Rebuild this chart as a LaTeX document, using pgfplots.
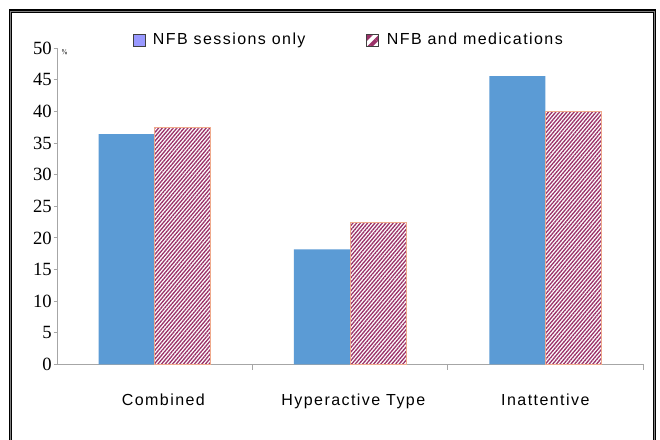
\documentclass[border=0pt]{standalone}
\usepackage{pgfplots}
\pgfplotsset{compat=1.18}
\usetikzlibrary{patterns.meta}
\usepackage{fontspec}
\setmainfont{Liberation Serif}
\newfontfamily\arialf[LetterSpace=9]{Liberation Sans}
\definecolor{barblue}{RGB}{91,155,213}
\definecolor{hatchc}{RGB}{155,50,105}
\definecolor{hatchedge}{RGB}{240,170,140}
\definecolor{axgray}{RGB}{166,166,166}
\definecolor{legblue}{RGB}{153,153,255}
\begin{document}
\begin{tikzpicture}
\clip (0pt,0pt) rectangle (495pt,329.25pt);
\fill[white] (0pt,0pt) rectangle (495pt,329.25pt);
\draw[line width=2.3pt] (7.9pt,-20pt) rectangle (491pt,321pt);
\draw[gray,line width=0.6pt] (7.9pt,-20pt) rectangle (491pt,321pt);
\begin{axis}[
  at={(42.75pt,56.03pt)}, anchor=south west,
  scale only axis, width=439.5pt, height=237pt,
  xmin=-0.5, xmax=2.5, ymin=0, ymax=50,
  axis x line*=bottom, axis y line*=left,
  axis line style={axgray, line width=0.75pt},
  ytick={0,5,...,50},
  tick align=outside, major tick length=2.5pt,
  ytick style={axgray, line width=0.6pt},
  xtick={0,1,2},
  xtick style={draw=none},
  xticklabels={\hspace{13pt}Combined, \hspace{5pt}Hyperactive Type, Inattentive},
  extra x ticks={0.5,1.5,2.5},
  extra x tick labels={},
  extra x tick style={xtick style={draw=axgray, line width=0.6pt}, major tick length=4pt},
  /pgf/number format/assume math mode=true,
  yticklabel style={font=\fontsize{14}{14}\selectfont, inner sep=1.2pt},
  xticklabel style={font=\arialf\fontsize{12}{12}\selectfont, yshift=-16pt},
  ybar=0pt, bar width=0.287,
  legend columns=2,
  legend style={at={(0.1297,1.0262)}, anchor=west, draw=none, fill=none, inner sep=0pt,
    font=\arialf\fontsize{12}{12}\selectfont, cells={anchor=west},
    /tikz/every odd column/.append style={column sep=3pt},
    /tikz/every even column/.append style={column sep=42pt}},
  legend image code/.code={\draw[#1] (0pt,-4.5pt) rectangle (9pt,4.5pt);},
]
\addplot[fill=barblue, draw=none, bar shift=-0.1435, forget plot] coordinates {(0,36.4) (1,18.2) (2,45.6)};
\addplot[fill=white, postaction={pattern={Lines[angle=50,distance=2.1pt,line width=1pt]}, pattern color=hatchc}, draw=hatchedge, line width=0.5pt, bar shift=0.1435, forget plot] coordinates {(0,37.5) (1,22.5) (2,40.0)};
\addlegendimage{fill=legblue, draw=black!75, line width=0.7pt}
\addlegendentry{NFB sessions only}
\addlegendimage{fill=white, postaction={pattern={Lines[angle=45,distance=6pt,line width=3pt]}, pattern color=hatchc}, draw=black!75, line width=0.7pt}
\addlegendentry{NFB and medications}
\end{axis}
\node[font=\sffamily\fontsize{5}{5}\selectfont, anchor=west, inner sep=0pt] at (46pt,290.25pt) {\%};
\end{tikzpicture}
\end{document}
